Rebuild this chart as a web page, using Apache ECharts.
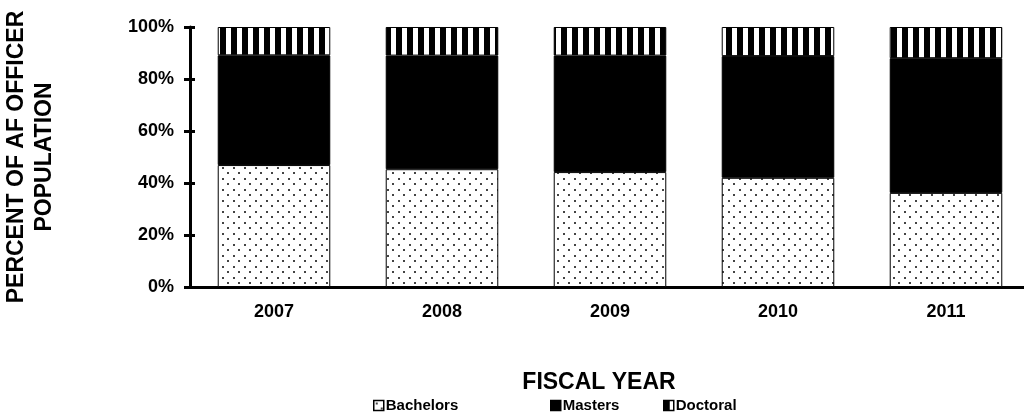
<!DOCTYPE html>
<html>
<head>
<meta charset="utf-8">
<script src="https://cdn.jsdelivr.net/npm/echarts@6/dist/echarts.min.js"></script>
<style>
  html, body { margin: 0; padding: 0; background: #fff; }
  #chart { width: 1024px; height: 416px; }
</style>
</head>
<body>
<div id="chart"></div>
<script>
// fiscal years and share of officers by degree (%)
var years = ['2007', '2008', '2009', '2010', '2011']
var bachelors = [46.9, 45.3, 44.2, 42.0, 36.2]
var masters = [42.2, 43.7, 44.8, 46.8, 51.8]
var doctoral = [10.9, 11.0, 11.0, 11.2, 12.0]
var yTicks = [0, 20, 40, 60, 80, 100]
var degreeNames = ['Bachelors', 'Masters', 'Doctoral']

var FONT = '"Liberation Sans", Arial, sans-serif'

// dotted fill for bachelors
function dotPattern() {
  var c = document.createElement('canvas')
  c.width = 11; c.height = 11
  var ctx = c.getContext('2d')
  ctx.fillStyle = '#fff'
  ctx.fillRect(0, 0, 11, 11)
  ctx.fillStyle = '#444'
  ctx.fillRect(2, 2, 2, 2)
  ctx.fillRect(7, 7, 2, 2)
  return c
}

// vertical stripes for doctoral
function stripePattern() {
  var c = document.createElement('canvas')
  c.width = 11; c.height = 10
  var ctx = c.getContext('2d')
  ctx.fillStyle = '#fff'
  ctx.fillRect(0, 0, 11, 10)
  ctx.fillStyle = '#000'
  ctx.fillRect(0, 0, 6, 10)
  return c
}

var myChart = echarts.init(document.getElementById('chart'))

function barSeries(name, data, color) {
  return {
    name: name,
    type: 'bar',
    stack: 'deg',
    barWidth: '67%',
    data: data,
    itemStyle: { color: color, borderColor: '#000', borderWidth: 1 }
  }
}

// one legend per item so the uneven spacing can be kept
var legendLeft = [373, 550, 663]
var legends = degreeNames.map(function (n, i) {
  return {
    left: legendLeft[i],
    top: 398,
    padding: 0,
    itemWidth: 10,
    itemHeight: 10,
    icon: 'rect',
    itemStyle: { borderColor: '#000', borderWidth: 1.5 },
    textStyle: { fontFamily: FONT, fontWeight: 'bold', fontSize: 15, color: '#000', padding: [0, 0, 0, -3] },
    data: [n]
  }
})

var option = {
  animation: false,
  grid: { left: 190, right: -6, top: 27, bottom: 129, outerBoundsMode: 'none', containLabel: false },
  legend: legends,
  xAxis: [{
    type: 'category',
    data: years,
    name: 'FISCAL YEAR',
    nameLocation: 'middle',
    nameGap: 84,
    nameTextStyle: { fontFamily: FONT, fontWeight: 'bold', fontSize: 23, color: '#000', padding: [0, 22, 0, 0] },
    axisLine: { lineStyle: { color: '#000', width: 3 } },
    axisTick: { length: 6, lineStyle: { color: '#000', width: 3 } },
    axisLabel: { fontFamily: FONT, fontWeight: 'bold', fontSize: 18, color: '#000', margin: 16 }
  }, {
    type: 'category',
    data: years,
    position: 'bottom',
    axisLine: { show: false },
    axisTick: { inside: true, length: 5, lineStyle: { color: '#000', width: 3 } },
    axisLabel: { show: false }
  }],
  yAxis: [{
    type: 'value',
    min: yTicks[0],
    max: yTicks[yTicks.length - 1],
    interval: 20,
    name: 'PERCENT OF AF OFFICER\nPOPULATION',
    nameLocation: 'middle',
    nameGap: 131,
    nameTextStyle: { fontFamily: FONT, fontWeight: 'bold', fontSize: 23, color: '#000', lineHeight: 28 },
    splitLine: { show: false },
    axisLine: { show: true, lineStyle: { color: '#000', width: 3 } },
    axisTick: { show: true, length: 6, lineStyle: { color: '#000', width: 3 } },
    axisLabel: { fontFamily: FONT, fontWeight: 'bold', fontSize: 18, color: '#000', margin: 16, formatter: '{value}%' }
  }, {
    type: 'value',
    min: yTicks[0],
    max: yTicks[yTicks.length - 1],
    interval: 20,
    position: 'left',
    splitLine: { show: false },
    axisLine: { show: false },
    axisTick: { show: true, inside: true, length: 5, lineStyle: { color: '#000', width: 3 } },
    axisLabel: { show: false }
  }],
  series: [
    barSeries('Bachelors', bachelors, { image: dotPattern(), repeat: 'repeat' }),
    barSeries('Masters', masters, '#000'),
    barSeries('Doctoral', doctoral, { image: stripePattern(), repeat: 'repeat' })
  ]
}

myChart.setOption(option)
</script>
</body>
</html>
